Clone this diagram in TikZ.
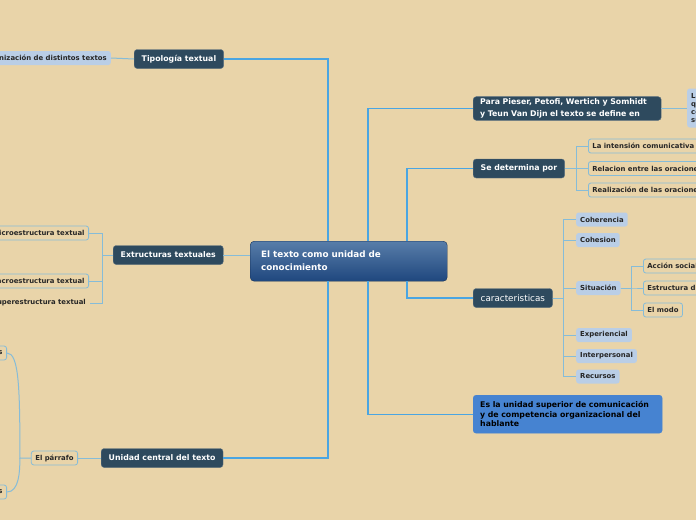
\documentclass[tikz,border=0pt]{standalone}
\usepackage{fontspec}
\setmainfont{DejaVu Sans}
\usetikzlibrary{positioning,calc}
\definecolor{fondo}{HTML}{E9D4A9}
\definecolor{pizarra}{HTML}{2E4A5E}
\definecolor{pizarraB}{HTML}{5B7080}
\definecolor{celeste}{HTML}{BACEE6}
\definecolor{linea}{HTML}{86BCD8}
\definecolor{tronco}{HTML}{4AA5E2}
\definecolor{azulfin}{HTML}{4683D1}
\definecolor{raizA}{HTML}{587DA9}
\definecolor{raizB}{HTML}{1F477E}
\definecolor{raizC}{HTML}{16325A}

\begin{document}
\begin{tikzpicture}[x=1pt, y=-1pt,
  raiz/.style={draw=raizC, rounded corners=4pt, top color=raizA, bottom color=raizB, text=white, align=left,
    font=\fontsize{8.8}{13}\selectfont\bfseries, text width=175pt, inner xsep=11pt, minimum height=40pt, anchor=north west},
  tema/.style={draw=pizarraB, fill=pizarra, rounded corners=3pt, text=white, align=left,
    font=\fontsize{7.8}{12}\selectfont\bfseries, inner xsep=7.5pt, inner ysep=2pt, minimum height=19pt},
  hoja/.style={fill=celeste, rounded corners=2.5pt, text=black!85, align=left,
    font=\fontsize{6.9}{8.2}\selectfont\bfseries, inner xsep=4pt, inner ysep=1pt, minimum height=14pt},
  hojab/.style={hoja, fill=fondo, draw=linea, line width=0.8pt},
  rama/.style={draw=linea, line width=1pt},
  eje/.style={draw=tronco, line width=1.2pt}]
\useasboundingbox (0,0) rectangle (696,520);
\fill[fondo] (0,0) rectangle (696,520);
\clip (0,0) rectangle (696,520);

\node[raiz] (cen) at (250,241) {El texto como unidad de\\conocimiento};

% izquierda
\node[tema, anchor=west] (tipo) at (134,59) {Tipología textual};
\node[hoja, anchor=east] (orga) at (111,58) {Organización de distintos textos};
\node[tema, anchor=west] (extr) at (113,255) {Extructuras textuales};
\node[hojab, anchor=east] (micro) at (89,233) {Microestructura textual};
\node[hojab, anchor=east] (macro) at (89,281) {Macroestructura textual};
\node[hoja, fill=none, anchor=east] (super) at (90,303) {Superestructura textual};
\node[tema, anchor=west] (unid) at (101,458) {Unidad central del texto};
\node[hojab, anchor=east] (parr) at (78,458) {El párrafo};
\node[hojab, anchor=east] (pa1) at (7,353) {s};
\node[hojab, anchor=east] (pa2) at (7,492) {s};

% derecha
\node[tema, anchor=west, text width=174pt, inner xsep=7pt] (para) at (473,108.5) {Para Pieser, Petofi, Wertich y Somhidt\\y Teun Van Dijn el texto se define en};
\node[hoja, anchor=west, minimum height=39pt] (defi) at (687,108) {La\\qu\\co\\su};
\node[tema, anchor=west] (sedet) at (473,168.5) {Se determina por};
\node[hojab, anchor=west] (inte) at (588,146) {La intensión comunicativa};
\node[hojab, anchor=west] (rela) at (588,168.5) {Relacion entre las oraciones};
\node[hojab, anchor=west] (real) at (588,190) {Realización de las oraciones};
\node[tema, anchor=west, font=\fontsize{8.8}{10}\selectfont] (cara) at (473,298) {caracteristicas};
\node[hoja, anchor=west] (cohe) at (576,219.5) {Coherencia};
\node[hoja, anchor=west] (cohs) at (576,240) {Cohesion};
\node[hoja, anchor=west] (situ) at (576,288) {Situación};
\node[hoja, anchor=west] (expe) at (576,335) {Experiencial};
\node[hoja, anchor=west] (inper) at (576,356) {Interpersonal};
\node[hoja, anchor=west] (recu) at (576,376.5) {Recursos};
\node[hojab, anchor=west] (acci) at (643,266) {Acción social};
\node[hojab, anchor=west] (estr) at (643,288) {Estructura d};
\node[hojab, anchor=west] (modo) at (643,310) {El modo};
\node[tema, anchor=north west, draw=azulfin, fill=azulfin, text=black, text width=175pt, inner xsep=7pt,
  minimum height=38pt, font=\fontsize{7.8}{9.5}\selectfont\bfseries] (esla) at (473,395)
  {Es la unidad superior de comunicación\\y de competencia organizacional del\\hablante};

% conectores
\draw[eje] (tipo.east) -| ([xshift=78]cen.north west);
\draw[eje] (unid.east) -| ([xshift=78]cen.south west);
\draw[eje] (para.west) -| ([xshift=118]cen.north west);
\draw[eje] (esla.west) -| ([xshift=118]cen.south west);
\draw[eje] (sedet.west) -| ([xshift=157]cen.north west);
\draw[eje] (cara.west) -| ([xshift=157]cen.south west);
\draw[rama] (extr.east) -- (extr.east -| cen.west);
\draw[rama] (orga.east) -- (tipo.west);
\draw[rama] (para.east) -- (para.east -| defi.west);
\draw[rama] (unid.west) -- (parr.east);
\foreach \h in {micro,macro,super}
  \draw[rama] (extr.west) -- ++(-11,0) |- (\h.east);
\coordinate (pj) at ([xshift=-11]parr.west);
\draw[rama] (parr.west) -- (pj) .. controls ($(pj |- pa1.east)+(0,35)$) and ($(pj |- pa1.east)+(-1,0)$) .. (pa1.east);
\draw[rama] (pj) .. controls ($(pj |- pa2.east)+(0,-20)$) and ($(pj |- pa2.east)+(-1,0)$) .. (pa2.east);
\foreach \h in {inte,rela,real}
  \draw[rama] (sedet.east) -- ++(12,0) |- (\h.west);
\foreach \h in {cohe,cohs,situ,expe,inper,recu}
  \draw[rama] (cara.east) -- ++(11,0) |- (\h.west);
\foreach \h in {acci,estr,modo}
  \draw[rama] (situ.east) -- ++(11,0) |- (\h.west);
\end{tikzpicture}
\end{document}
